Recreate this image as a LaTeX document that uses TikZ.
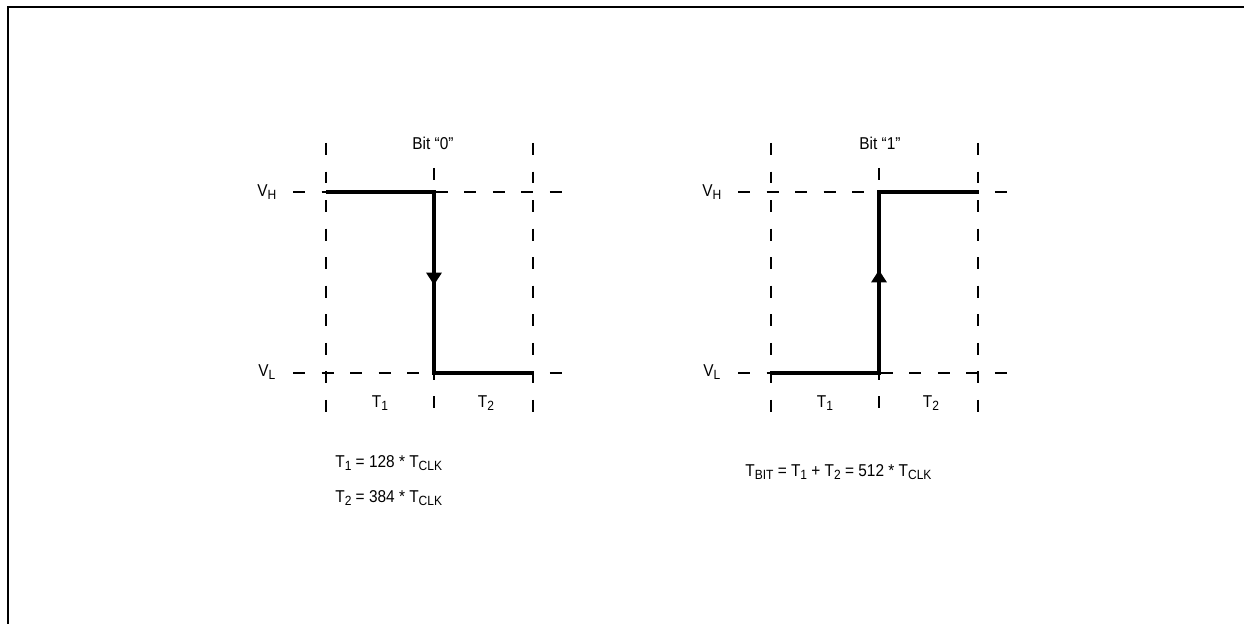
\documentclass[tikz,border=0pt]{standalone}
\usepackage{fontspec}
\setmainfont{Liberation Sans}[FakeStretch=0.9]
\usepackage{tikz}
\usetikzlibrary{arrows.meta,calc,positioning}

\newcommand{\lowsub}[1]{\raisebox{-0.32ex}{\fontsize{7.6}{8}\selectfont #1}}

\tikzset{
  frameline/.style={line width=1.3pt},
  gridline/.style={line width=1.2pt,dash pattern=on 6.8pt off 9.45pt},
  sig/.style={line width=2pt},
  sigarrow/.style={line width=2pt,-{Triangle[length=7pt,width=8.5pt]}},
  lbl/.style={font=\fontsize{9.75}{11.5}\selectfont,inner sep=0pt,anchor=base}
}

\begin{document}
\begin{tikzpicture}[x=0.02cm,y=-0.02cm]
  \useasboundingbox (0,0) rectangle (1244,624);
  \draw[frameline] (8,624) -- (8,7) -- (1244,7);
  % bit 0 and bit 1 share the same grid
  \foreach \dx in {0,445} {
    \begin{scope}[xshift=\dx*0.02cm]
      \draw[gridline] (326,143) -- (326,422);
      \draw[gridline] (434,168) -- (434,422);
      \draw[gridline] (533,143) -- (533,422);
      \draw[gridline] (293,192) -- (563,192);
      \draw[gridline] (293,373) -- (563,373);
      \node[lbl,anchor=base west] at (257,197) {V\lowsub{H}};
      \node[lbl,anchor=base west] at (258,377) {V\lowsub{L}};
      \node[lbl] at (380,408) {T\lowsub{1}};
      \node[lbl] at (486,408) {T\lowsub{2}};
    \end{scope}
  }
  \node[lbl] (bit0) at (433,150) {Bit “0”};
  \node[lbl] (bit1) at (880,150) {Bit “1”};
  % bit 0: high then falling edge
  \coordinate (h0a) at (326,192);
  \coordinate (h0b) at (434,192);
  \coordinate (l0a) at (434,373);
  \coordinate (l0b) at (533,373);
  \draw[sig] (h0a) -- (h0b) -- (l0a) -- (l0b);
  \draw[sigarrow] (h0b) -- (434,285);
  % bit 1: low then rising edge
  \coordinate (l1a) at (771,373);
  \coordinate (l1b) at (879,373);
  \coordinate (h1a) at (879,192);
  \coordinate (h1b) at (979,192);
  \draw[sig] (l1a) -- (l1b) -- (h1a) -- (h1b);
  \draw[sigarrow] (l1b) -- (879,270);
  % timing
  \node[lbl,anchor=base west] (tone) at (335,468) {T\lowsub{1} = 128 * T\lowsub{CLK}};
  \node[lbl,anchor=base west] (ttwo) at (335,503) {T\lowsub{2} = 384 * T\lowsub{CLK}};
  \node[lbl,anchor=base west] (tbit) at (745,477) {T\lowsub{BIT} = T\lowsub{1} + T\lowsub{2} = 512 * T\lowsub{CLK}};
\end{tikzpicture}
\end{document}
